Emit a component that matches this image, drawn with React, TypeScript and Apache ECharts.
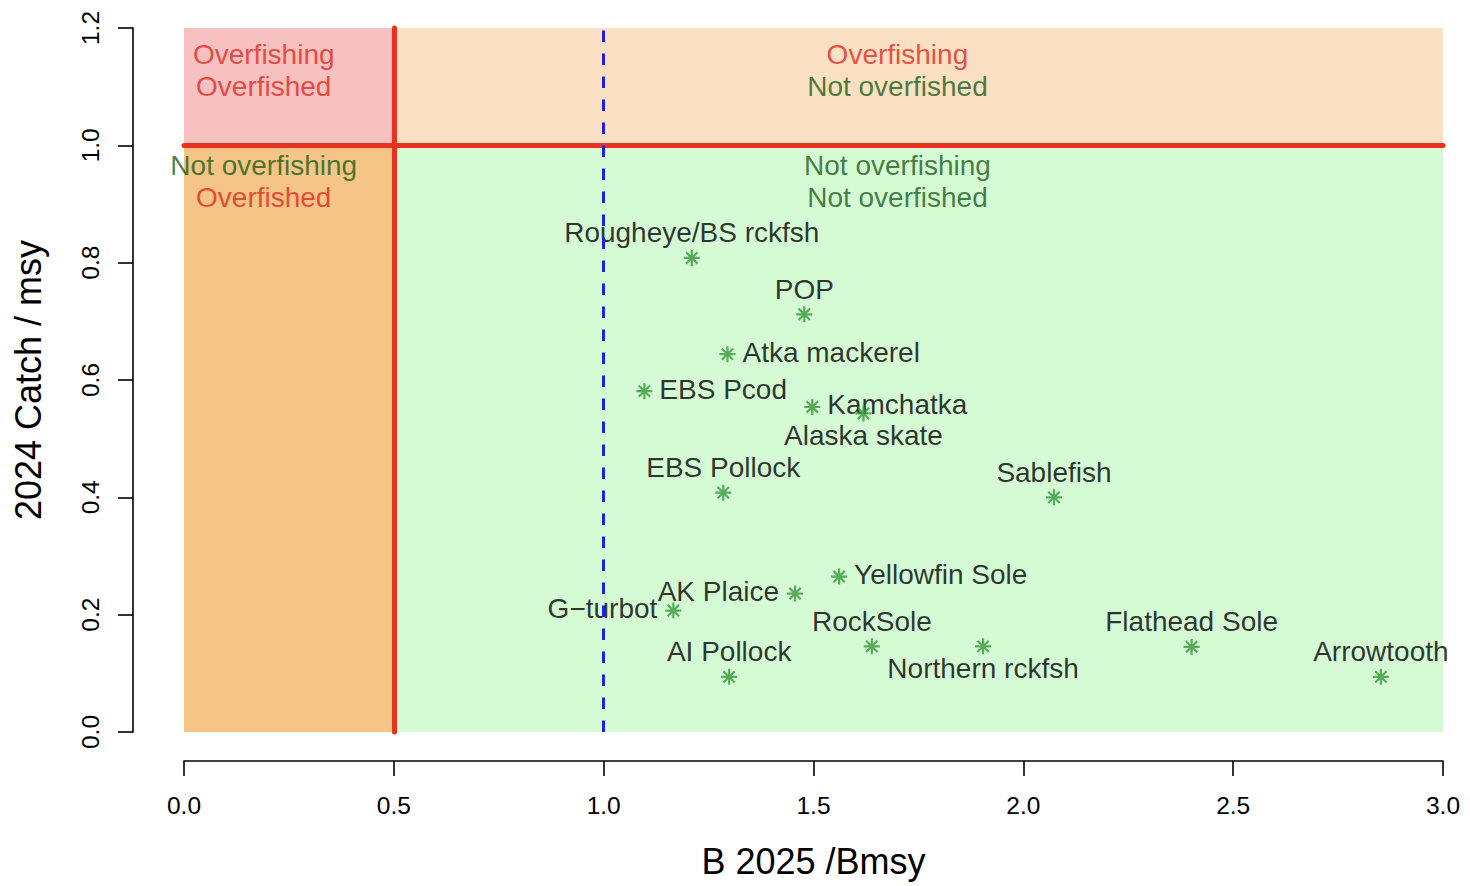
import React, { useEffect, useRef } from "react";
import * as echarts from "echarts";

// ---- data ----
const species = [
  "Rougheye/BS rckfsh",
  "POP",
  "Atka mackerel",
  "EBS Pcod",
  "Kamchatka",
  "Alaska skate",
  "EBS Pollock",
  "Sablefish",
  "Yellowfin Sole",
  "AK Plaice",
  "G\u2212turbot",
  "RockSole",
  "Northern rckfsh",
  "Flathead Sole",
  "AI Pollock",
  "Arrowtooth",
];
const bRatio = [1.21, 1.478, 1.295, 1.097, 1.497, 1.619, 1.285, 2.073, 1.561, 1.456, 1.166, 1.639, 1.904, 2.401, 1.299, 2.852];
const catchRatio = [0.808, 0.712, 0.644, 0.581, 0.554, 0.543, 0.408, 0.4, 0.265, 0.236, 0.207, 0.146, 0.146, 0.145, 0.094, 0.094];
const labelPos = ["top", "top", "right", "right", "right", "bottom", "top", "top", "right", "left", "left", "top", "bottom", "top", "top", "top"];

const zoneText = ["Overfishing", "Overfished", "Not overfishing", "Overfished", "Overfishing", "Not overfished", "Not overfishing", "Not overfished"];
const zoneX = [0.19, 0.19, 0.19, 0.19, 1.7, 1.7, 1.7, 1.7];
const zoneY = [1.155, 1.101, 0.965, 0.911, 1.155, 1.101, 0.965, 0.911];
const zoneKind = ["bad", "bad", "good", "bad", "bad", "good", "good", "good"];

const bLimit = 0.5; // B/Bmsy limit
const bTarget = 1.0; // B/Bmsy = 1
const catchLimit = 1.0; // catch/msy = 1
const xMin = 0, xMax = 3, xStep = 0.5;
const yMin = 0, yMax = 1.2, yStep = 0.2;

const RED_TEXT = "#e02a20";
const GREEN_TEXT = "#1b5e15";
const STAR = "#36983a";
const FONT = "'Liberation Sans', Arial, Helvetica, sans-serif";

const STAR_PATH =
  "path://M8 0 L8 16 M0 8 L16 8 M2.34 2.34 L13.66 13.66 M2.34 13.66 L13.66 2.34";

function labelFor(pos: string) {
  if (pos === "top") return { offset: [0, -25] };
  if (pos === "bottom") return { offset: [0, 22] };
  if (pos === "right") return { align: "left", offset: [15, -2] };
  return { align: "right", offset: [-16, -2] };
}

export default function App() {
  const ref = useRef<HTMLDivElement>(null);
  useEffect(() => {
    if (!ref.current) return;
    const chart = echarts.init(ref.current, null, { renderer: "svg" });
    const pts = species.map((s, i) => [bRatio[i], catchRatio[i], s]);
    const option: any = {
      animation: false,
      textStyle: { fontFamily: FONT },
      grid: { left: 184, right: 27, top: 28, bottom: 154, containLabel: false },
      xAxis: {
        type: "value",
        min: xMin,
        max: xMax,
        interval: xStep,
        offset: 29,
        splitLine: { show: false },
        axisLine: { show: true, onZero: false, lineStyle: { color: "#000", width: 1.6 } },
        axisTick: { show: true, length: 15, lineStyle: { color: "#000", width: 1.6 } },
        axisLabel: {
          color: "#000",
          fontSize: 24.5,
          margin: 32,
          fontFamily: FONT,
          formatter: (v: number) => v.toFixed(1),
        },
        name: "B 2025 /Bmsy",
        nameLocation: "middle",
        nameGap: 82,
        nameTextStyle: { color: "#000", fontSize: 36, fontFamily: FONT },
      },
      yAxis: {
        type: "value",
        min: yMin,
        max: yMax,
        interval: yStep,
        offset: 51,
        splitLine: { show: false },
        axisLine: { show: true, onZero: false, lineStyle: { color: "#000", width: 1.6 } },
        axisTick: { show: true, length: 15, lineStyle: { color: "#000", width: 1.6 } },
        axisLabel: {
          color: "#000",
          fontSize: 24.5,
          margin: 30,
          rotate: 90,
          fontFamily: FONT,
          formatter: (v: number) => v.toFixed(1),
        },
        name: "2024 Catch / msy",
        nameLocation: "middle",
        nameGap: 87,
        nameTextStyle: { color: "#000", fontSize: 36, fontFamily: FONT },
      },
      series: [
        {
          type: "scatter",
          name: "zones",
          z: 1,
          silent: true,
          clip: false,
          data: [],
          markArea: {
            silent: true,
            label: { show: false },
            data: [
              [{ xAxis: xMin, yAxis: catchLimit, itemStyle: { color: "#f8c1c1" } }, { xAxis: bLimit, yAxis: yMax }],
              [{ xAxis: bLimit, yAxis: catchLimit, itemStyle: { color: "#fce0c4" } }, { xAxis: xMax, yAxis: yMax }],
              [{ xAxis: xMin, yAxis: yMin, itemStyle: { color: "#f5c487" } }, { xAxis: bLimit, yAxis: catchLimit }],
              [{ xAxis: bLimit, yAxis: yMin, itemStyle: { color: "#d5fbd5" } }, { xAxis: xMax, yAxis: catchLimit }],
            ],
          },
        },
        {
          type: "scatter",
          name: "limits",
          z: 2,
          silent: true,
          clip: false,
          data: [],
          markLine: {
            silent: true,
            symbol: ["none", "none"],
            label: { show: false },
            lineStyle: { color: "#e8321f", width: 5, type: "solid", cap: "round" },
            data: [
              [{ coord: [bLimit, yMin] }, { coord: [bLimit, yMax] }],
              [{ coord: [xMin, catchLimit] }, { coord: [xMax, catchLimit] }],
            ],
          },
        },
        {
          type: "scatter",
          name: "zoneText",
          z: 3,
          silent: true,
          clip: false,
          symbol: "circle",
          symbolSize: 1,
          itemStyle: { color: "rgba(0,0,0,0)" },
          data: zoneText.map((t, i) => ({
            value: [zoneX[i], zoneY[i], t],
            label: { color: zoneKind[i] === "bad" ? RED_TEXT : GREEN_TEXT },
          })),
          label: {
            show: true,
            position: "inside",
            fontSize: 28,
            fontFamily: FONT,
            formatter: (p: any) => p.value[2],
          },
        },
        {
          type: "scatter",
          name: "labels",
          z: 3,
          silent: true,
          clip: false,
          symbol: "circle",
          symbolSize: 1,
          itemStyle: { color: "rgba(0,0,0,0)" },
          data: pts.map((p, i) => ({ value: p, label: labelFor(labelPos[i]) })),
          label: {
            show: true,
            position: "inside",
            color: "#000",
            fontSize: 28,
            fontFamily: FONT,
            formatter: (p: any) => p.value[2],
          },
        },
        {
          type: "scatter",
          name: "stocks",
          z: 4,
          silent: true,
          clip: false,
          symbol: STAR_PATH,
          symbolSize: 16,
          itemStyle: { color: "rgba(0,0,0,0)", borderColor: STAR, borderWidth: 2.2 },
          data: pts.map((p) => [p[0], p[1]]),
        },
        {
          type: "scatter",
          name: "bmsy",
          z: 5,
          silent: true,
          clip: false,
          data: [],
          markLine: {
            silent: true,
            symbol: ["none", "none"],
            label: { show: false },
            lineStyle: { color: "#1f1fe8", width: 3, type: [11.5, 11.5], cap: "butt" },
            data: [[{ coord: [bTarget, yMin] }, { coord: [bTarget, yMax] }]],
          },
        },
      ],
    };
    chart.setOption(option);
    return () => chart.dispose();
  }, []);
  return (
    <div
      ref={ref}
      style={{ position: "fixed", left: 0, top: 0, width: 1470, height: 886, background: "#fff" }}
    />
  );
}
